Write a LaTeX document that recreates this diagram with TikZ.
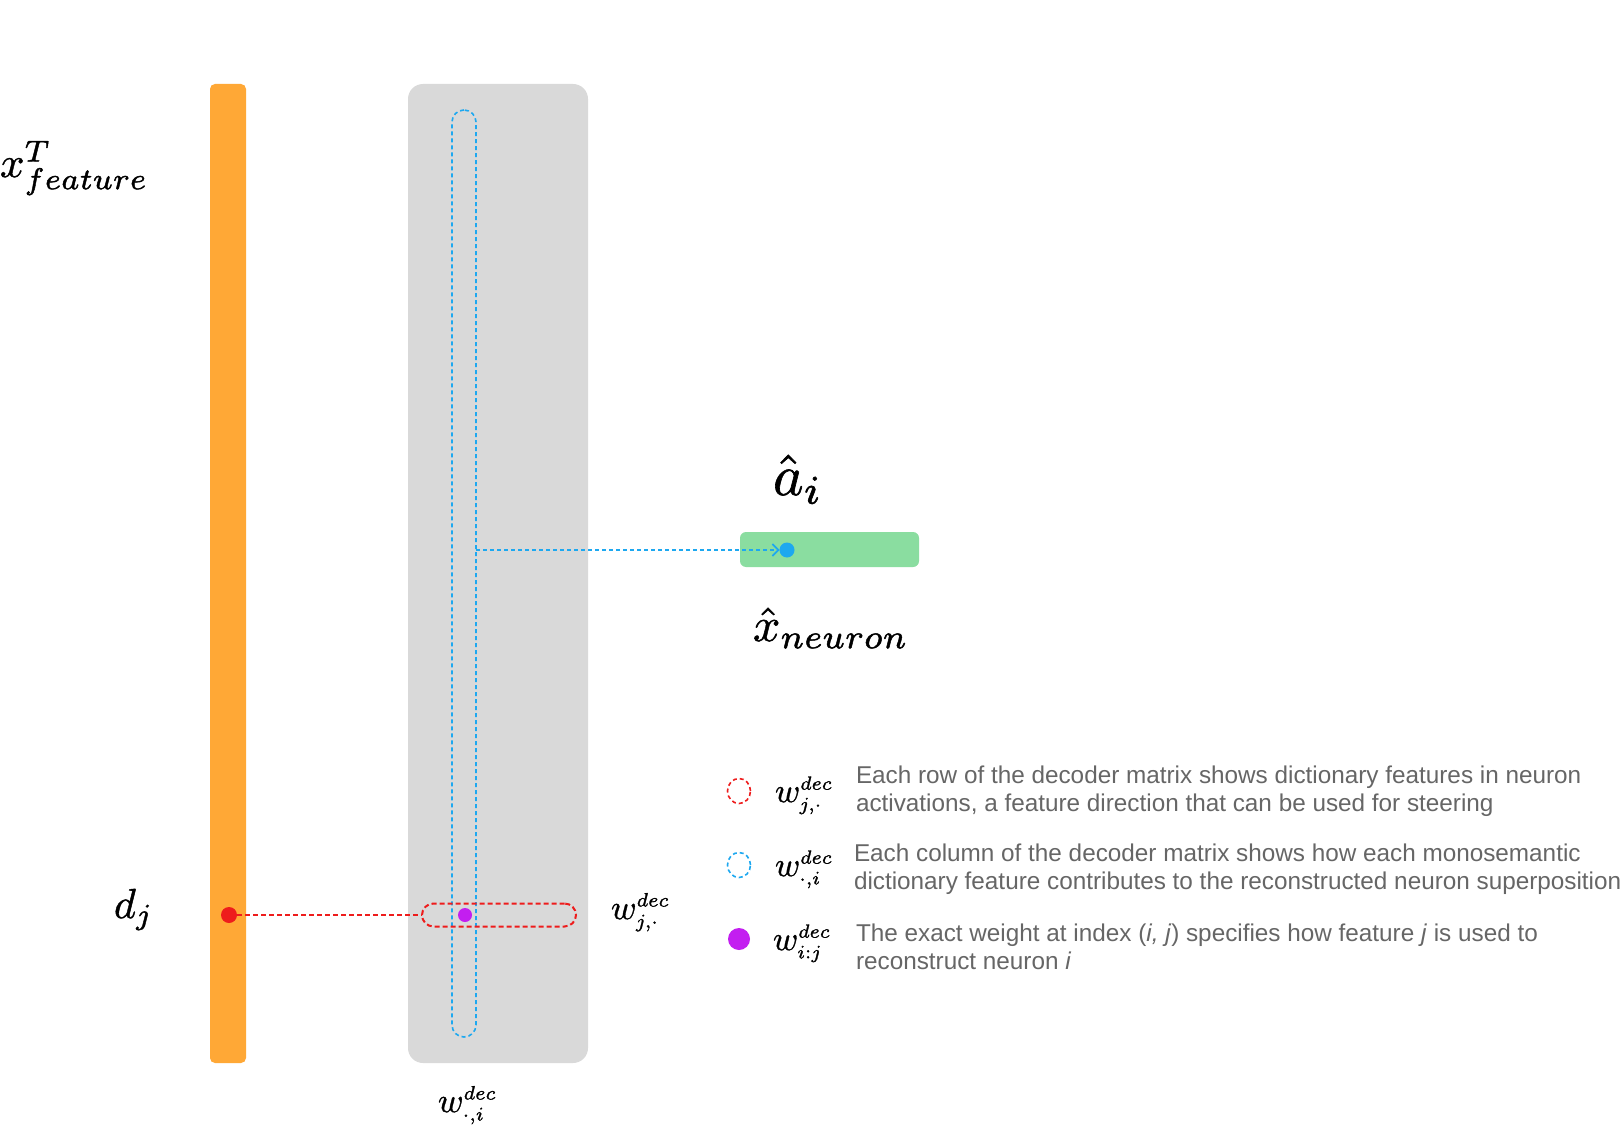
\documentclass[tikz,border=0pt]{standalone}
\usepackage{fontspec}
\usepackage{graphicx}
\setmainfont{Liberation Sans}
\usetikzlibrary{arrows.meta,shapes.geometric}
\definecolor{orng}{HTML}{FFA836}
\definecolor{greybox}{HTML}{D9D9D9}
\definecolor{grn}{HTML}{8ADDA0}
\definecolor{blu}{HTML}{1DA8F0}
\definecolor{rd}{HTML}{EE1C1C}
\definecolor{prp}{HTML}{C31EF0}
\definecolor{txt}{HTML}{666666}
\newcommand\fbmath[1]{\special{pdf:literal direct 2 Tr 0.1 w}#1\special{pdf:literal direct 0 Tr}}
\newcommand\ssc[1]{\scalebox{0.8}{$\scriptstyle #1$}}
\begin{document}
\begin{tikzpicture}[x=1pt,y=-1pt,
  block/.style={rectangle,inner sep=0pt,outer sep=0pt,draw=none},
  bluedash/.style={draw=blu,line width=1.6pt,dash pattern=on 4pt off 3pt},
  reddash/.style={draw=rd,line width=2pt,dash pattern=on 5pt off 3pt},
  dotnode/.style={circle,inner sep=0pt,outer sep=0pt,draw=none},
  mlbl/.style={inner sep=0pt,outer sep=0pt,text=black,anchor=base west,transform shape},
  legtxt/.style={inner sep=0pt,outer sep=0pt,text=txt,anchor=west,align=left,
     font=\fontsize{24.3}{28}\selectfont}
]
\useasboundingbox (0,0) rectangle (1620,1126);
\fill[white] (0,0) rectangle (1620,1126);

% bars
\node[block,fill=orng,rounded corners=5pt,minimum width=36pt,minimum height=979pt] (orange) at (228,573.5) {};
\node[block,fill=greybox,rounded corners=15pt,minimum width=180pt,minimum height=979pt] (grey) at (498,573.5) {};
\node[block,fill=grn,rounded corners=6pt,minimum width=179pt,minimum height=35pt] (green) at (829.5,549.5) {};

% capsules
\node[block,bluedash,rounded corners=12pt,minimum width=24pt,minimum height=927pt] (bcap) at (464,573.5) {};
\node[block,reddash,rounded corners=11.5pt,minimum width=154pt,minimum height=23pt] (rcap) at (499,915) {};

% dots
\node[dotnode,fill=rd,minimum size=16pt] (rdot) at (229,915) {};
\node[dotnode,fill=prp,minimum size=14pt] (pdot) at (465,915) {};
\node[dotnode,fill=blu,minimum size=15pt] (bdot) at (787,550) {};

% connectors
\draw[reddash] (rdot.east) -- (rcap.west);
\draw[bluedash,-{Straight Barb[length=6pt,width=12pt]}] (bcap.east |- bdot.west) -- (bdot.west);

% math labels
\node[mlbl,scale=4.3] (xfeat) at (0,177) {\fbmath{$x^T_{feature}$}};
\node[mlbl,scale=4.2] (dj) at (114,918) {\fbmath{$d_j$}};
\node[mlbl,scale=5.8] (ahat) at (773,495) {\fbmath{$\hat{a}_i$}};
\node[mlbl,scale=4.8] (xhat) at (753,641) {\fbmath{$\hat{x}_{neuron}$}};
\node[mlbl,scale=3.45] (wrow) at (611,919) {\fbmath{$w^{\ssc{dec}}_{\ssc{j,\cdot}}$}};
\node[mlbl,scale=3.45] (wcol) at (438,1112) {\fbmath{$w^{\ssc{dec}}_{\ssc{\cdot,i}}$}};

% legend
\node[ellipse,inner sep=0pt,outer sep=0pt,reddash,line width=1.6pt,dash pattern=on 4pt off 3pt,minimum width=23pt,minimum height=25pt] (lg1) at (739,791) {};
\node[ellipse,inner sep=0pt,outer sep=0pt,bluedash,minimum width=23pt,minimum height=25pt] (lg2) at (739,865) {};
\node[dotnode,fill=prp,minimum size=22pt] (lg3) at (739,939) {};

\node[mlbl,scale=3.4] (lw1) at (775,802) {\fbmath{$w^{\ssc{dec}}_{\ssc{j,\cdot}}$}};
\node[mlbl,scale=3.4] (lw2) at (775,876) {\fbmath{$w^{\ssc{dec}}_{\ssc{\cdot,i}}$}};
\node[mlbl,scale=3.4] (lw3) at (773,950) {\fbmath{$w^{\ssc{dec}}_{\ssc{i:j}}$}};

\node[legtxt] (lt1) at (856,791.5) {Each row of the decoder matrix shows dictionary features in neuron\\activations, a feature direction that can be used for steering};
\node[legtxt] (lt2) at (854,869.5) {Each column of the decoder matrix shows how each monosemantic\\dictionary feature contributes to the reconstructed neuron superposition};
\node[legtxt] (lt3) at (856,946.5) {The exact weight at index (\textit{i, j}) specifies how feature \textit{j} is used to\\reconstruct neuron \textit{i}};
\end{tikzpicture}
\end{document}
